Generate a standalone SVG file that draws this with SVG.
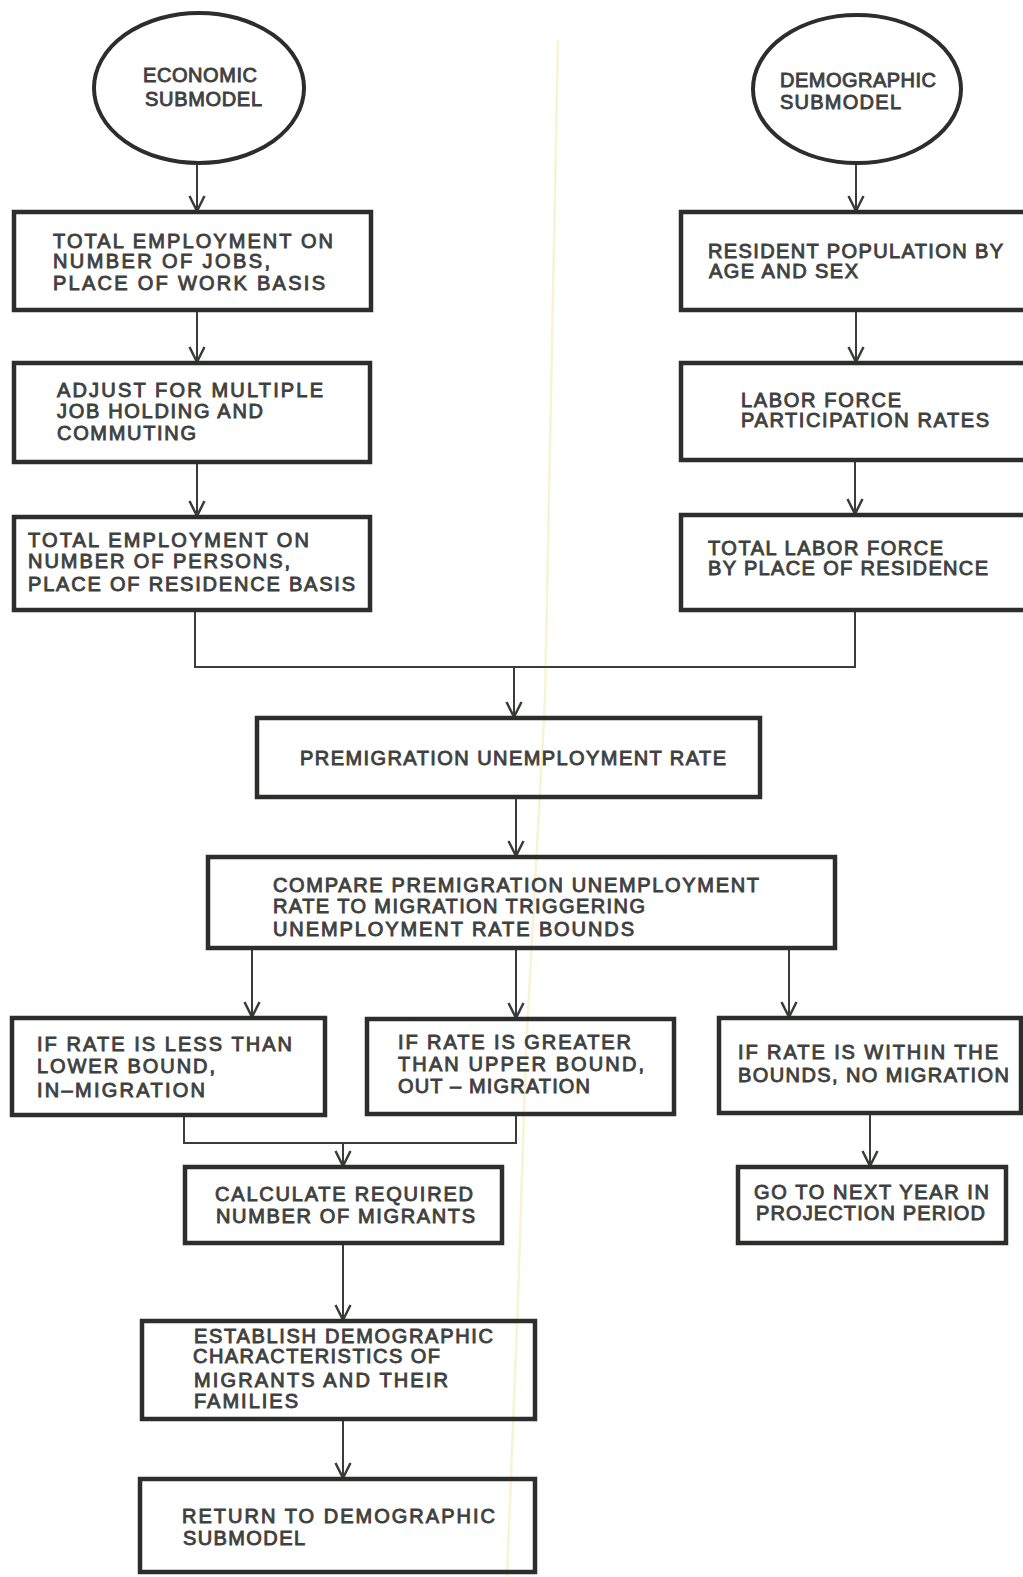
<svg xmlns="http://www.w3.org/2000/svg" width="1023" height="1577" viewBox="0 0 1023 1577">
  <style>
    .box { fill: none; stroke: #2b2e2b; stroke-width: 4.5; }
    .oval { fill: none; stroke: #2b2e2b; stroke-width: 4; }
    .wire { fill: none; stroke: #3a3c3a; stroke-width: 2; }
    .lbl { font-family: "Liberation Sans", Arial, sans-serif; font-size: 20px; font-weight: 400; fill: #3f413f; stroke: #3f413f; stroke-width: 0.9; }
    .streak { fill: none; stroke: #f8f3d2; stroke-width: 2.5; }
  </style>
  <defs>
    <marker id="head" markerUnits="userSpaceOnUse" markerWidth="20" markerHeight="20" viewBox="-14 -8 16 16" refX="0" refY="0" orient="auto">
      <path d="M-12,-6 L0,0 L-12,6" fill="none" stroke="#3a3c3a" stroke-width="2"/>
    </marker>
  </defs>

  <rect width="1023" height="1577" fill="#ffffff"/>

  <!-- faint paper streak -->
  <polyline class="streak" points="558,40 545,700 526,1050 518,1300 507,1577"/>

  <!-- connectors -->
  <g id="connectors">
    <line class="wire" x1="197" y1="163" x2="197" y2="211" marker-end="url(#head)"/>
    <line class="wire" x1="197" y1="310" x2="197" y2="362" marker-end="url(#head)"/>
    <line class="wire" x1="197" y1="462" x2="197" y2="516" marker-end="url(#head)"/>
    <line class="wire" x1="856" y1="163" x2="856" y2="211" marker-end="url(#head)"/>
    <line class="wire" x1="856" y1="310" x2="856" y2="362" marker-end="url(#head)"/>
    <line class="wire" x1="855" y1="460" x2="855" y2="514" marker-end="url(#head)"/>
    <polyline class="wire" points="195,610 195,667 855,667 855,610"/>
    <line class="wire" x1="514" y1="667" x2="514" y2="717" marker-end="url(#head)"/>
    <line class="wire" x1="516" y1="797" x2="516" y2="856" marker-end="url(#head)"/>
    <line class="wire" x1="252" y1="948" x2="252" y2="1017" marker-end="url(#head)"/>
    <line class="wire" x1="516" y1="948" x2="516" y2="1018" marker-end="url(#head)"/>
    <line class="wire" x1="789" y1="948" x2="789" y2="1017" marker-end="url(#head)"/>
    <polyline class="wire" points="184,1115 184,1143 516,1143 516,1114"/>
    <line class="wire" x1="343" y1="1143" x2="343" y2="1166" marker-end="url(#head)"/>
    <line class="wire" x1="870" y1="1113" x2="870" y2="1166" marker-end="url(#head)"/>
    <line class="wire" x1="343" y1="1243" x2="343" y2="1320" marker-end="url(#head)"/>
    <line class="wire" x1="343" y1="1419" x2="343" y2="1478" marker-end="url(#head)"/>
  </g>

  <!-- economic side -->
  <g id="economic-submodel">
    <ellipse class="oval" cx="199" cy="88" rx="105" ry="75"/>
    <text class="lbl" x="143" y="82" textLength="114" lengthAdjust="spacing">ECONOMIC</text>
    <text class="lbl" x="145" y="106" textLength="117" lengthAdjust="spacing">SUBMODEL</text>
  </g>

  <g id="employment-jobs">
    <rect class="box" x="14" y="212" width="357" height="98"/>
    <text class="lbl" x="53" y="248" textLength="280" lengthAdjust="spacing">TOTAL  EMPLOYMENT ON</text>
    <text class="lbl" x="53" y="268" textLength="217" lengthAdjust="spacing">NUMBER OF JOBS,</text>
    <text class="lbl" x="53" y="290" textLength="272" lengthAdjust="spacing">PLACE OF WORK BASIS</text>
  </g>

  <g id="adjust-multiple">
    <rect class="box" x="14" y="363" width="356" height="99"/>
    <text class="lbl" x="57" y="397" textLength="266" lengthAdjust="spacing">ADJUST FOR MULTIPLE</text>
    <text class="lbl" x="57" y="418" textLength="206" lengthAdjust="spacing">JOB HOLDING AND</text>
    <text class="lbl" x="57" y="440" textLength="139" lengthAdjust="spacing">COMMUTING</text>
  </g>

  <g id="employment-persons">
    <rect class="box" x="14" y="517" width="356" height="93"/>
    <text class="lbl" x="28" y="547" textLength="281" lengthAdjust="spacing">TOTAL EMPLOYMENT ON</text>
    <text class="lbl" x="28" y="568" textLength="262" lengthAdjust="spacing">NUMBER OF PERSONS,</text>
    <text class="lbl" x="28" y="591" textLength="327" lengthAdjust="spacing">PLACE OF RESIDENCE BASIS</text>
  </g>

  <!-- demographic side -->
  <g id="demographic-submodel">
    <ellipse class="oval" cx="857" cy="89" rx="104" ry="74"/>
    <text class="lbl" x="780" y="87" textLength="156" lengthAdjust="spacing">DEMOGRAPHIC</text>
    <text class="lbl" x="780" y="109" textLength="121" lengthAdjust="spacing">SUBMODEL</text>
  </g>

  <g id="resident-population">
    <rect class="box" x="681" y="212" width="360" height="98"/>
    <text class="lbl" x="708" y="258" textLength="295" lengthAdjust="spacing">RESIDENT  POPULATION BY</text>
    <text class="lbl" x="709" y="278" textLength="149" lengthAdjust="spacing">AGE  AND SEX</text>
  </g>

  <g id="participation-rates">
    <rect class="box" x="681" y="363" width="360" height="97"/>
    <text class="lbl" x="741" y="407" textLength="160" lengthAdjust="spacing">LABOR FORCE</text>
    <text class="lbl" x="741" y="427" textLength="248" lengthAdjust="spacing">PARTICIPATION RATES</text>
  </g>

  <g id="labor-force">
    <rect class="box" x="681" y="515" width="360" height="95"/>
    <text class="lbl" x="708" y="555" textLength="235" lengthAdjust="spacing">TOTAL LABOR FORCE</text>
    <text class="lbl" x="708" y="575" textLength="280" lengthAdjust="spacing">BY PLACE OF RESIDENCE</text>
  </g>

  <!-- central trunk -->
  <g id="premigration-rate">
    <rect class="box" x="257" y="718" width="503" height="79"/>
    <text class="lbl" x="300" y="765" textLength="426" lengthAdjust="spacing">PREMIGRATION UNEMPLOYMENT RATE</text>
  </g>

  <g id="compare-bounds">
    <rect class="box" x="208" y="857" width="627" height="91"/>
    <text class="lbl" x="273" y="892" textLength="486" lengthAdjust="spacing">COMPARE  PREMIGRATION UNEMPLOYMENT</text>
    <text class="lbl" x="273" y="913" textLength="372" lengthAdjust="spacing">RATE TO MIGRATION TRIGGERING</text>
    <text class="lbl" x="273" y="936" textLength="361" lengthAdjust="spacing">UNEMPLOYMENT  RATE  BOUNDS</text>
  </g>

  <!-- three outcomes -->
  <g id="in-migration">
    <rect class="box" x="12" y="1018" width="313" height="97"/>
    <text class="lbl" x="37" y="1051" textLength="255" lengthAdjust="spacing">IF RATE  IS LESS THAN</text>
    <text class="lbl" x="37" y="1073" textLength="178" lengthAdjust="spacing">LOWER  BOUND,</text>
    <text class="lbl" x="37" y="1097" textLength="168" lengthAdjust="spacing">IN–MIGRATION</text>
  </g>

  <g id="out-migration">
    <rect class="box" x="367" y="1019" width="307" height="95"/>
    <text class="lbl" x="398" y="1049" textLength="233" lengthAdjust="spacing">IF  RATE  IS GREATER</text>
    <text class="lbl" x="398" y="1071" textLength="246" lengthAdjust="spacing">THAN  UPPER BOUND,</text>
    <text class="lbl" x="398" y="1093" textLength="192" lengthAdjust="spacing">OUT – MIGRATION</text>
  </g>

  <g id="no-migration">
    <rect class="box" x="719" y="1018" width="302" height="95"/>
    <text class="lbl" x="738" y="1059" textLength="260" lengthAdjust="spacing">IF RATE  IS WITHIN  THE</text>
    <text class="lbl" x="738" y="1082" textLength="271" lengthAdjust="spacing">BOUNDS, NO  MIGRATION</text>
  </g>

  <g id="calculate-migrants">
    <rect class="box" x="185" y="1167" width="317" height="76"/>
    <text class="lbl" x="215" y="1201" textLength="258" lengthAdjust="spacing">CALCULATE  REQUIRED</text>
    <text class="lbl" x="216" y="1223" textLength="259" lengthAdjust="spacing">NUMBER  OF  MIGRANTS</text>
  </g>

  <g id="next-year">
    <rect class="box" x="738" y="1167" width="268" height="76"/>
    <text class="lbl" x="754" y="1199" textLength="235" lengthAdjust="spacing">GO TO NEXT  YEAR  IN</text>
    <text class="lbl" x="756" y="1220" textLength="229" lengthAdjust="spacing">PROJECTION  PERIOD</text>
  </g>

  <g id="migrant-characteristics">
    <rect class="box" x="142" y="1321" width="393" height="98"/>
    <text class="lbl" x="194" y="1343" textLength="299" lengthAdjust="spacing">ESTABLISH  DEMOGRAPHIC</text>
    <text class="lbl" x="193" y="1363" textLength="247" lengthAdjust="spacing">CHARACTERISTICS OF</text>
    <text class="lbl" x="194" y="1387" textLength="254" lengthAdjust="spacing">MIGRANTS  AND  THEIR</text>
    <text class="lbl" x="194" y="1408" textLength="104" lengthAdjust="spacing">FAMILIES</text>
  </g>

  <g id="return-demographic">
    <rect class="box" x="140" y="1479" width="395" height="93"/>
    <text class="lbl" x="182" y="1523" textLength="313" lengthAdjust="spacing">RETURN  TO DEMOGRAPHIC</text>
    <text class="lbl" x="183" y="1545" textLength="122" lengthAdjust="spacing">SUBMODEL</text>
  </g>
</svg>
